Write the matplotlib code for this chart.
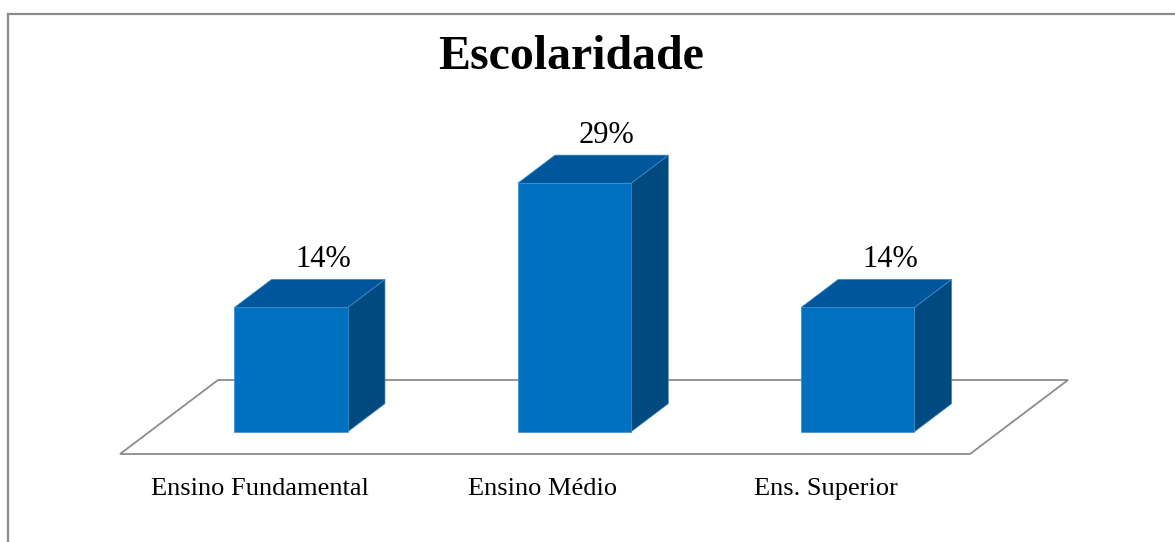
import numpy as np
import matplotlib.pyplot as plt
from matplotlib.patches import Polygon
from matplotlib.lines import Line2D

plt.rcParams['font.family'] = ['Liberation Serif', 'DejaVu Serif']

# data
categorias = ['Ensino Fundamental', 'Ensino Médio', 'Ens. Superior']
valores = [14.29, 28.57, 14.29]
rotulos = ['14%', '29%', '14%']

W, H = 1175, 542
fig = plt.figure(figsize=(W / 100, H / 100), dpi=100)
ax = fig.add_axes([0, 0, 1, 1])
ax.axis('off')

# pixel layout -> data limits (x: category units, y: percent)
x0_px, floor_px = 120, 454          # front-left corner of the floor
cat_px = 850 / 3                    # width of one category on front edge
val_px = 8.7                        # pixels per percent
ax.set_xlim(-x0_px / cat_px, (W - x0_px) / cat_px)
ax.set_ylim(-(H - floor_px) / val_px, floor_px / val_px)

# depth vector (full floor depth) in data units
ddx, ddy = 98 / cat_px, 74 / val_px


def pt(x, v, d):
    return (x + ddx * d, v + ddy * d)


n = len(categorias)
# floor
floor = Polygon([pt(0, 0, 0), pt(n, 0, 0), pt(n, 0, 1), pt(0, 0, 1)],
                closed=True, facecolor='white', edgecolor='#8c8c8c',
                linewidth=1.3, zorder=1)
ax.add_patch(floor)

front_c, top_c, side_c = '#0070C0', '#00569A', '#004A80'
edge_c = '#3f8ccc'
bw = 0.4
d0, d1 = 0.3, 0.68
for i, (v, lab) in enumerate(zip(valores, rotulos)):
    xl, xr = i + 0.5 - bw / 2, i + 0.5 + bw / 2
    front = [pt(xl, 0, d0), pt(xr, 0, d0), pt(xr, v, d0), pt(xl, v, d0)]
    top = [pt(xl, v, d0), pt(xr, v, d0), pt(xr, v, d1), pt(xl, v, d1)]
    side = [pt(xr, 0, d0), pt(xr, 0, d1), pt(xr, v, d1), pt(xr, v, d0)]
    for poly, c in ((side, side_c), (top, top_c), (front, front_c)):
        ax.add_patch(Polygon(poly, closed=True, facecolor=c, edgecolor=edge_c,
                             linewidth=0.5, zorder=3))
    ax.annotate(lab, pt(i + 0.5, v, d1), xytext=(-5, 5),
                textcoords='offset pixels', ha='center', va='bottom',
                fontsize=22, color='black', zorder=4)

for i, name in enumerate(categorias):
    ax.annotate(name, (i + 0.5, 0), xytext=(-2, -41), textcoords='offset pixels',
                ha='center', va='baseline', fontsize=19, color='black')

fig.text(571 / W, 1 - 69 / H, 'Escolaridade', ha='center', va='baseline',
         fontsize=34.5, fontweight='bold')

# chart border (left and top)
fig.add_artist(Line2D([8 / W, 8 / W], [0, 1 - 14 / H], color='#8c8c8c',
                      linewidth=1.6, transform=fig.transFigure))
fig.add_artist(Line2D([8 / W, 1], [1 - 14 / H, 1 - 14 / H], color='#8c8c8c',
                      linewidth=1.6, transform=fig.transFigure))

fig.savefig('out.png', dpi=100)
